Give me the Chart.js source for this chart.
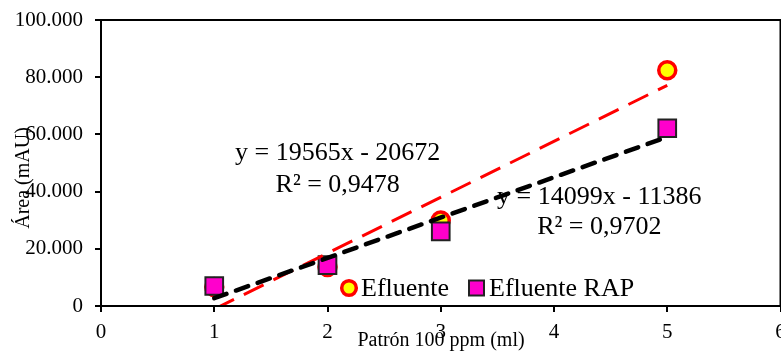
<!DOCTYPE html>
<html>
<head>
<meta charset="utf-8">
<script src="https://cdn.jsdelivr.net/npm/chart.js@4/dist/chart.umd.min.js"></script>
<style>
  html, body { margin: 0; padding: 0; background: #fff; overflow: hidden; }
  #wrap { width: 795px; height: 352px; }
</style>
</head>
<body>
<div id="wrap"><canvas id="chart"></canvas></div>
<script>
// volumes of standard (ml)
const patron = [1, 2, 3, 5];
const efluente = [6600, 13600, 29900, 82400];
const efluenteRAP = [7000, 14300, 26100, 62150];
// linear trendlines
const trendEfluente = { m: 19565, b: -20672, r2: '0,9478' };
const trendRAP = { m: 14099, b: -11386, r2: '0,9702' };
const xTicks = [0, 1, 2, 3, 4, 5, 6];
const yTicks = [0, 20000, 40000, 60000, 80000, 100000];

const serif = "'Liberation Serif', 'Times New Roman', serif";

function trendPoints(t) {
    return [patron[0], patron[patron.length - 1]].map(x => ({ x: x, y: t.m * x + t.b }));
}
function eqText(t) {
    return 'y = ' + t.m + 'x - ' + Math.abs(t.b);
}

const extras = {
    id: 'extras',
    afterDraw(chart) {
        const ctx = chart.ctx;
        const a = chart.chartArea;
        const xs = chart.scales.x, ys = chart.scales.y;
        ctx.save();
        // frame
        ctx.strokeStyle = '#000';
        ctx.lineWidth = 2;
        ctx.strokeRect(a.left, a.top, a.right - a.left, a.bottom - a.top);

        // equation labels
        ctx.fillStyle = '#000';
        ctx.font = '26px ' + serif;
        ctx.textAlign = 'center';
        ctx.textBaseline = 'alphabetic';
        ctx.fillText(eqText(trendEfluente), xs.getPixelForValue(2.09), ys.getPixelForValue(51000));
        ctx.fillText('R² = ' + trendEfluente.r2, xs.getPixelForValue(2.09), ys.getPixelForValue(39800));
        ctx.fillText(eqText(trendRAP), xs.getPixelForValue(4.4), ys.getPixelForValue(35800));
        ctx.fillText('R² = ' + trendRAP.r2, xs.getPixelForValue(4.4), ys.getPixelForValue(25300));

        // legend inside the plot
        ctx.font = '26px ' + serif;
        ctx.textAlign = 'left';
        ctx.textBaseline = 'middle';
        const ly = 288;
        ctx.beginPath();
        ctx.arc(349, ly, 7.3, 0, Math.PI * 2);
        ctx.fillStyle = '#FFFF00';
        ctx.fill();
        ctx.lineWidth = 3.5;
        ctx.strokeStyle = '#FF0000';
        ctx.stroke();
        ctx.fillStyle = '#000';
        ctx.fillText('Efluente', 361, ly + 1);
        ctx.fillStyle = '#FF00CC';
        ctx.fillRect(469, ly - 7.5, 15, 15);
        ctx.lineWidth = 2;
        ctx.strokeStyle = '#222';
        ctx.strokeRect(469, ly - 7.5, 15, 15);
        ctx.fillStyle = '#000';
        ctx.fillText('Efluente RAP', 489, ly + 1);

        // axis titles
        ctx.font = '20px ' + serif;
        ctx.textAlign = 'center';
        ctx.fillText('Patrón 100 ppm (ml)', 441, 341);
        ctx.translate(24, 178);
        ctx.rotate(-Math.PI / 2);
        ctx.fillText('Área (mAU)', 0, 0);
        ctx.restore();
    }
};

const ctx = document.getElementById('chart').getContext('2d');
new Chart(ctx, {
    type: 'scatter',
    data: {
        datasets: [{
            label: 'trend RAP',
            type: 'line',
            data: trendPoints(trendRAP),
            borderColor: '#000',
            borderWidth: 4.5,
            borderDash: [13, 10],
            borderCapStyle: 'round',
            pointRadius: 0,
            fill: false,
            order: 0
        }, {
            label: 'trend Efluente',
            type: 'line',
            data: trendPoints(trendEfluente),
            borderColor: '#FF0000',
            borderWidth: 3,
            borderDash: [22, 11],
            pointRadius: 0,
            fill: false,
            order: 1
        }, {
            label: 'Efluente RAP',
            data: patron.map((x, i) => ({ x: x, y: efluenteRAP[i] })),
            pointStyle: 'rect',
            pointRadius: 12.5,
            backgroundColor: '#FF00CC',
            borderColor: '#222',
            borderWidth: 2,
            order: 2
        }, {
            label: 'Efluente',
            data: patron.map((x, i) => ({ x: x, y: efluente[i] })),
            pointStyle: 'circle',
            pointRadius: 8.5,
            backgroundColor: '#FFFF00',
            borderColor: '#FF0000',
            borderWidth: 3.5,
            order: 3
        }]
    },
    options: {
        responsive: true,
        maintainAspectRatio: false,
        animation: false,
        events: [],
        layout: { padding: { top: 20, right: 1, left: 0, bottom: 0 } },
        plugins: {
            legend: { display: false },
            tooltip: { enabled: false }
        },
        scales: {
            x: {
                type: 'linear',
                min: 0,
                max: 6,
                afterFit: s => { s.height = 46; s.paddingRight = 0; s.paddingLeft = 0; },
                afterBuildTicks: s => { s.ticks = xTicks.map(v => ({ value: v })); },
                border: { display: true, color: '#000', width: 2 },
                grid: { drawOnChartArea: false, drawTicks: true, tickLength: 6, color: '#000', lineWidth: 2 },
                ticks: { color: '#000', font: { family: serif, size: 21 }, padding: 8, maxRotation: 0 }
            },
            y: {
                type: 'linear',
                min: 0,
                max: 100000,
                afterFit: s => { s.width = 101; s.paddingTop = 0; s.paddingBottom = 0; },
                afterBuildTicks: s => { s.ticks = yTicks.map(v => ({ value: v })); },
                border: { display: true, color: '#000', width: 2 },
                grid: { drawOnChartArea: false, drawTicks: true, tickLength: 6, color: '#000', lineWidth: 2 },
                ticks: {
                    color: '#000',
                    font: { family: serif, size: 21 },
                    padding: 12,
                    callback: v => v === 0 ? '0' : v.toLocaleString('de-DE')
                }
            }
        }
    },
    plugins: [extras]
});
</script>
</body>
</html>
